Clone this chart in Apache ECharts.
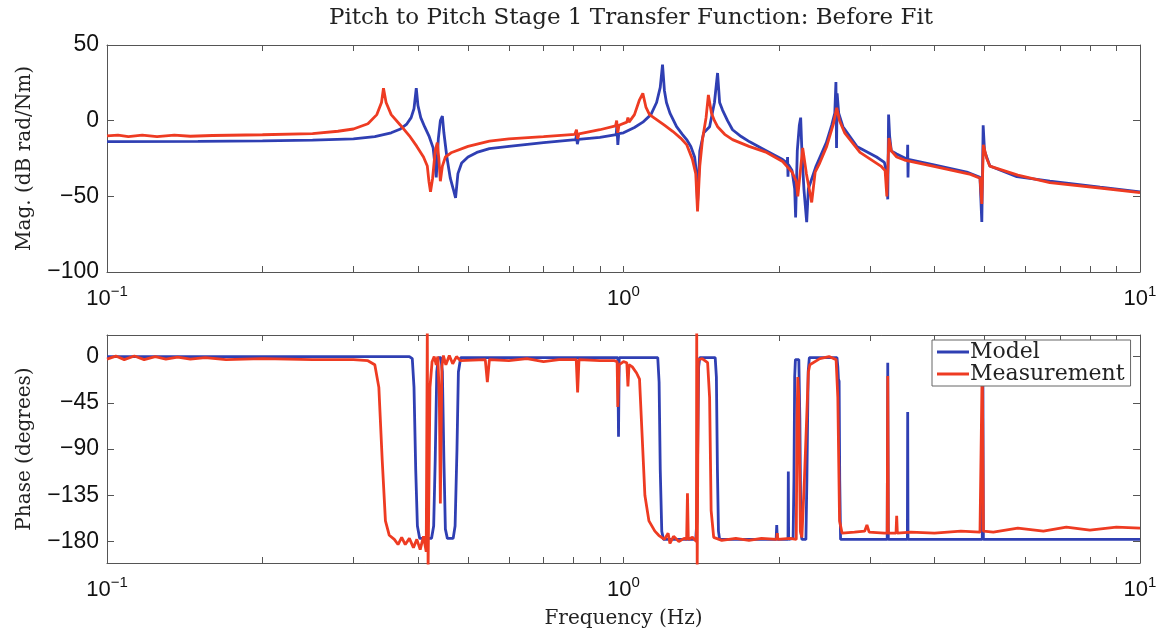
<!DOCTYPE html>
<html>
<head>
<meta charset="utf-8">
<script src="https://cdn.jsdelivr.net/npm/echarts@6/dist/echarts.min.js"></script>
<style>
  html, body { margin: 0; padding: 0; background: #fff; }
  #chart { width: 1161px; height: 632px; }
</style>
</head>
<body>
<div id="chart"></div>
<script>
// tick values
const freqTicks = [0.1, 0.2, 0.3, 0.4, 0.5, 0.6, 0.7, 0.8, 0.9, 1, 2, 3, 4, 5, 6, 7, 8, 9, 10]
const freqLabels = [0.1, 1, 10]
const phaseTicks = [-180, -135, -90, -45, 0]

// magnitude, model (dB)
const modelMagF = [0.1, 0.15, 0.2, 0.25, 0.3, 0.33, 0.355, 0.37, 0.38, 0.388, 0.393, 0.397, 0.4, 0.405, 0.412, 0.42, 0.428, 0.434, 0.438, 0.442, 0.446, 0.449, 0.455, 0.462, 0.468, 0.473, 0.478, 0.486, 0.5, 0.52, 0.55, 0.6, 0.7, 0.808, 0.811, 0.814, 0.818, 0.9, 0.968, 0.971, 0.975, 0.979, 1.0, 1.05, 1.09, 1.13, 1.159, 1.178, 1.19, 1.2, 1.211, 1.23, 1.267, 1.3, 1.325, 1.35, 1.373, 1.385, 1.391, 1.405, 1.43, 1.468, 1.5, 1.521, 1.535, 1.555, 1.59, 1.626, 1.69, 1.755, 1.893, 2.033, 2.075, 2.078, 2.082, 2.085, 2.12, 2.145, 2.154, 2.17, 2.19, 2.203, 2.215, 2.235, 2.263, 2.28, 2.36, 2.47, 2.53, 2.565, 2.578, 2.585, 2.592, 2.61, 2.66, 2.83, 3.09, 3.2, 3.235, 3.248, 3.26, 3.275, 3.3, 3.38, 3.545, 3.55, 3.555, 3.56, 3.97, 4.62, 4.9, 4.94, 4.97, 5.0, 5.12, 5.775, 6.69, 8.37, 10]
const modelMag = [-13.9, -13.7, -13.3, -12.8, -12, -10.5, -8, -5.5, -2.5, 2, 8, 21.5, 10, 2, -4, -10, -18, -37.5, -12, 0, 3, -8, -24, -38, -45, -51, -35, -28, -24, -21, -18.5, -17, -14.5, -12.5, -9.5, -15.5, -12.4, -11, -9.2, -3, -16, -8.5, -8, -4.5, -1, 4, 12, 22, 37, 20, 12, 5, -4, -9, -12.5, -17, -24, -35, -55, -20, -8, -4, 12, 31.5, 12, 7, 0, -6, -10.5, -14, -20, -25.7, -28, -24, -37, -29, -33, -45, -64, -20, -3, 2, -20, -45, -67, -45, -30, -14.5, -3, 5, 25.5, -18, 18, 5, -4, -17, -24, -27.6, -35, -52, 4, -10, -20, -22, -25.5, -16, -37.5, -25.5, -29, -34, -37.5, -67, -3, -20, -30, -37, -40, -44, -47]

// magnitude, measurement (dB)
const measMagF = [0.1, 0.105, 0.11, 0.117, 0.125, 0.135, 0.145, 0.16, 0.2, 0.25, 0.28, 0.3, 0.32, 0.333, 0.34, 0.343, 0.347, 0.355, 0.37, 0.385, 0.398, 0.41, 0.417, 0.42, 0.423, 0.427, 0.432, 0.436, 0.439, 0.442, 0.446, 0.452, 0.465, 0.5, 0.55, 0.6, 0.7, 0.805, 0.811, 0.815, 0.82, 0.9, 0.965, 0.97, 0.975, 0.98, 1.015, 1.02, 1.025, 1.05, 1.074, 1.09, 1.105, 1.123, 1.159, 1.2, 1.245, 1.29, 1.325, 1.36, 1.38, 1.391, 1.405, 1.422, 1.445, 1.46, 1.48, 1.5, 1.521, 1.57, 1.626, 1.75, 1.893, 2.033, 2.12, 2.16, 2.175, 2.223, 2.26, 2.314, 2.35, 2.398, 2.474, 2.55, 2.587, 2.62, 2.68, 2.87, 3.15, 3.21, 3.235, 3.265, 3.3, 3.38, 3.5, 3.97, 4.7, 4.9, 4.94, 4.975, 5.05, 5.12, 5.8, 6.69, 8.37, 10]
const measMag = [-10, -9.5, -10.5, -9.6, -10.6, -9.6, -10.3, -9.8, -9.3, -8.5, -7, -5.5, -2, 4, 12, 21.5, 12, 4, -3, -10, -17, -24, -30, -40, -47, -38, -20, -14.5, -25, -40, -30, -24, -21, -17, -13.5, -12, -10.5, -9, -6, -12, -8.8, -6, -3.5, 0, -8, -3, -1, 2, -1, 4, 13.8, 18, 9, 4, 0.7, -3, -7, -11.5, -15.8, -25.7, -35, -60, -30, -12.5, 2, 17, 5, 0, -4, -9, -12.5, -17, -21, -27, -34, -40, -50, -18, -35, -54, -34, -28, -17, -2, 8.5, 0, -8, -21, -30, -33, -50, -11.5, -20, -24, -26, -30, -35.5, -38, -55, -16, -25, -30, -36, -41, -44.5, -47.5]

// phase, model (deg)
const modelPhF = [0.1, 0.385, 0.39, 0.393, 0.396, 0.399, 0.403, 0.425, 0.429, 0.432, 0.435, 0.438, 0.443, 0.446, 0.449, 0.452, 0.456, 0.468, 0.472, 0.476, 0.479, 0.484, 0.975, 0.978, 0.981, 1.165, 1.172, 1.178, 1.186, 1.195, 1.38, 1.387, 1.392, 1.398, 1.405, 1.505, 1.513, 1.52, 1.527, 1.535, 1.975, 1.98, 1.985, 2.082, 2.085, 2.088, 2.13, 2.138, 2.145, 2.152, 2.185, 2.195, 2.205, 2.215, 2.255, 2.265, 2.278, 2.29, 2.59, 2.6, 2.607, 2.615, 2.622, 2.632, 3.24, 3.248, 3.256, 3.545, 3.55, 3.555, 4.95, 4.963, 4.975, 10]
const modelPh = [0, 0, -2, -30, -110, -165, -177, -177, -165, -100, -15, -1, -1, -15, -100, -168, -177, -177, -165, -90, -15, -1, -1, -78, -1, -1, -25, -110, -170, -178, -178, -160, -90, -10, -1, -1, -20, -110, -170, -178, -178, -164, -178, -178, -112, -178, -177, -120, -20, -3, -3, -60, -170, -178, -178, -120, -15, -1, -1, -10, -22, -24, -120, -178, -178, -6, -178, -178, -54, -178, -178, -5, -178, -178]

// phase, measurement (deg)
const measPhF = [0.1, 0.104, 0.108, 0.113, 0.118, 0.124, 0.13, 0.137, 0.145, 0.155, 0.17, 0.2, 0.25, 0.3, 0.32, 0.33, 0.336, 0.341, 0.346, 0.352, 0.36, 0.366, 0.372, 0.378, 0.385, 0.392, 0.398, 0.404, 0.41, 0.415, 0.417, 0.4185, 0.422, 0.426, 0.43, 0.434, 0.437, 0.44, 0.442, 0.445, 0.448, 0.453, 0.46, 0.467, 0.475, 0.483, 0.54, 0.545, 0.55, 0.6, 0.65, 0.7, 0.75, 0.81, 0.815, 0.82, 0.9, 0.96, 0.972, 0.975, 0.98, 1.0, 1.015, 1.02, 1.025, 1.04, 1.06, 1.074, 1.085, 1.1, 1.12, 1.15, 1.17, 1.2, 1.22, 1.23, 1.25, 1.28, 1.31, 1.325, 1.33, 1.335, 1.36, 1.384, 1.386, 1.389, 1.396, 1.42, 1.455, 1.468, 1.478, 1.495, 1.55, 1.65, 1.75, 1.85, 1.98, 1.985, 1.99, 2.1, 2.16, 2.168, 2.175, 2.185, 2.2, 2.215, 2.24, 2.28, 2.295, 2.4, 2.5, 2.58, 2.6, 2.62, 2.65, 2.8, 2.93, 2.96, 2.99, 3.2, 3.24, 3.248, 3.256, 3.37, 3.38, 3.39, 3.6, 4.0, 4.5, 4.9, 4.95, 4.975, 5.2, 5.8, 6.5, 7.2, 8, 9, 10]
const measPh = [-2.5, 0.5, -3, 0.5, -3, 0, -2.5, -0.5, -2.5, -1, -3, -2, -3, -3, -4, -8, -30, -100, -160, -174, -178, -183, -176, -183, -177, -186, -178, -188, -175, -190, 25, -205, -30, -5, 0, -8, 0, -40, -143, -10, 1, -8, 1, -7, 0, -4, -3, -25, -3, -4, -2, -5, -3, -3, -35, -3, -4, -4, -5, -49, -8, -5, -6, -29, -8, -10, -16, -22, -70, -135, -160, -170, -174, -178, -172, -182, -175, -180, -177, -178, -133, -178, -176, -180, 25, -205, -3, -2, -6, -40, -150, -176, -179, -177, -179, -177, -178, -172, -178, -177, -178, -60, -20, -40, -170, -176, -120, -15, -8, -2, 0, -3, -40, -160, -172, -171, -170, -164, -171, -172, -172, -19, -172, -172, -155, -172, -171, -172, -170, -171, -5, -170, -171, -167, -170, -166, -169, -166, -167]

const BLUE = '#2f3fb3'
const RED = '#ee3b22'
const AX = '#555'

const zip = (xs, ys) => xs.map((x, i) => [x, ys[i]])
const minus = v => String(v).replace('-', '\u2212')

// 对数频率轴：底部带标签，顶部只画刻度
function freqAxis(grid, pos, withLabel) {
  return {
    type: 'log', logBase: 10, min: 0.1, max: 10, gridIndex: grid, position: pos,
    axisLine: { show: true, onZero: false, lineStyle: { color: AX, width: 1 } },
    axisTick: { show: true, inside: true, length: 6, customValues: freqTicks, lineStyle: { color: AX } },
    axisLabel: {
      show: withLabel, customValues: freqLabels, margin: 12,
      formatter: v => {
        const e = Math.round(Math.log10(v))
        return '{b|10}{s|' + minus(e) + '}'
      },
      rich: {
        b: { fontFamily: 'Liberation Sans', fontSize: 22, color: '#111' },
        s: { fontFamily: 'Liberation Sans', fontSize: 15, color: '#111', padding: [0, 0, 14, 0] }
      }
    },
    splitLine: { show: false }, minorTick: { show: false }
  }
}

function valAxis(grid, pos, cfg, withLabel) {
  return Object.assign({
    type: 'value', gridIndex: grid, position: pos,
    axisLine: { show: true, onZero: false, lineStyle: { color: AX, width: 1 } },
    axisTick: { show: true, inside: true, length: 7, lineStyle: { color: AX } },
    axisLabel: {
      show: withLabel, margin: 8, color: '#111',
      fontFamily: 'Liberation Sans', fontSize: 23, formatter: v => minus(v)
    },
    splitLine: { show: false }
  }, cfg)
}

const nameStyle = { fontFamily: 'DejaVu Serif', fontSize: 20, color: '#222' }

const chart = echarts.init(document.getElementById('chart'), null, { renderer: 'canvas' })

const magY = { min: -100, max: 50, interval: 50 }
const phY = { min: -201, max: 21 }

const yAxes = [
  valAxis(0, 'left', Object.assign({ name: 'Mag. (dB rad/Nm)', nameLocation: 'middle', nameGap: 72, nameRotate: 90, nameTextStyle: nameStyle }, magY), true),
  valAxis(0, 'right', magY, false),
  valAxis(1, 'left', Object.assign({ name: 'Phase (degrees)', nameLocation: 'middle', nameGap: 72, nameRotate: 90, nameTextStyle: nameStyle }, phY), true),
  valAxis(1, 'right', phY, false)
]
yAxes[2].axisLabel.customValues = phaseTicks
yAxes[2].axisTick.customValues = phaseTicks
yAxes[3].axisTick.customValues = phaseTicks

const xBottom = freqAxis(1, 'bottom', true)
xBottom.name = 'Frequency (Hz)'
xBottom.nameLocation = 'middle'
xBottom.nameGap = 46
xBottom.nameTextStyle = nameStyle

const lineStyle = c => ({ color: c, width: 2.8 })

chart.setOption({
  animation: false,
  backgroundColor: '#fff',
  title: {
    text: 'Pitch to Pitch Stage 1 Transfer Function: Before Fit',
    left: 626, textAlign: 'center', top: 2,
    textStyle: { fontFamily: 'DejaVu Serif', fontSize: 23, fontWeight: 'normal', color: '#222' }
  },
  legend: {
    data: ['Model', 'Measurement'],
    orient: 'vertical', left: 932, top: 340,
    icon: 'rect', itemWidth: 32, itemHeight: 3, itemGap: 0,
    padding: [1, 6, 1, 5],
    backgroundColor: '#fff', borderColor: '#666', borderWidth: 1,
    textStyle: { fontFamily: 'DejaVu Serif', fontSize: 22, color: '#222', lineHeight: 20, padding: [0, 0, 0, -4] }
  },
  grid: [
    { left: 107, right: 21, top: 45, height: 227 },
    { left: 107, right: 21, top: 335, height: 228 }
  ],
  xAxis: [freqAxis(0, 'bottom', true), freqAxis(0, 'top', false), xBottom, freqAxis(1, 'top', false)],
  yAxis: yAxes,
  series: [
    { name: 'Model', type: 'line', xAxisIndex: 0, yAxisIndex: 0, showSymbol: false, symbol: 'none', color: BLUE, lineStyle: lineStyle(BLUE), data: zip(modelMagF, modelMag) },
    { name: 'Measurement', type: 'line', xAxisIndex: 0, yAxisIndex: 0, showSymbol: false, symbol: 'none', color: RED, lineStyle: lineStyle(RED), data: zip(measMagF, measMag) },
    { name: 'Model', type: 'line', xAxisIndex: 2, yAxisIndex: 2, showSymbol: false, symbol: 'none', color: BLUE, lineStyle: lineStyle(BLUE), clip: true, data: zip(modelPhF, modelPh) },
    { name: 'Measurement', type: 'line', xAxisIndex: 2, yAxisIndex: 2, showSymbol: false, symbol: 'none', color: RED, lineStyle: lineStyle(RED), clip: true, data: zip(measPhF, measPh) }
  ]
})
</script>
</body>
</html>
